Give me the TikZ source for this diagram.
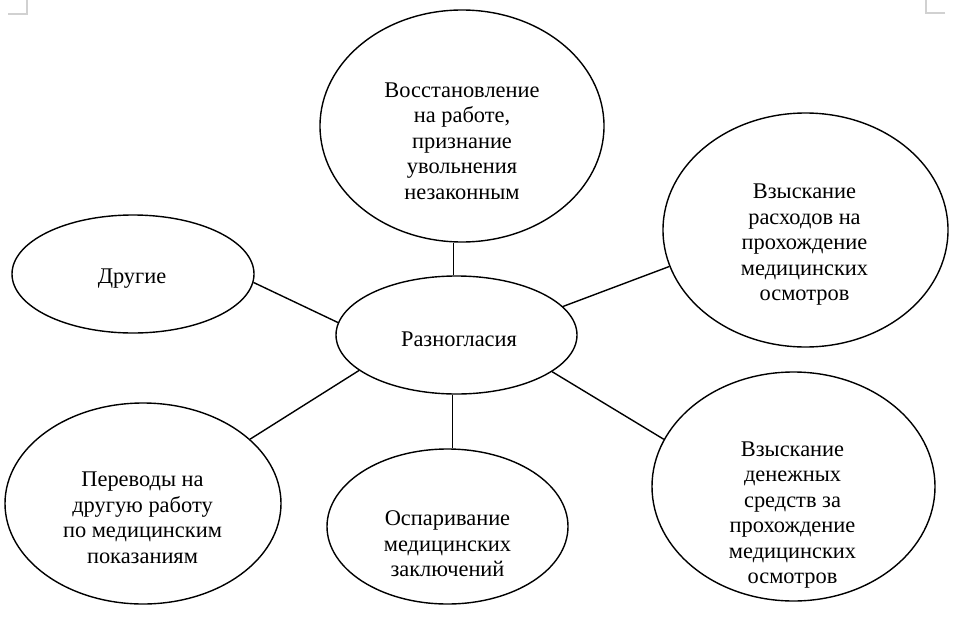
\documentclass[tikz,border=0pt]{standalone}
\usepackage{fontspec}
\setmainfont{Liberation Serif}
\usetikzlibrary{shapes.geometric}

\begin{document}
\begin{tikzpicture}[x=1pt,y=-1pt]
	\tikzset{BubbleStyle/.style =
		{draw,
			shape = ellipse,
			inner sep = 0pt,
			line width = 1.4pt,
			color = black},
		TextStyle/.style =
		{align = center,
			font = \fontsize{22.4}{25.5}\selectfont,
			text = black},
		EdgeStyle/.style = {line width = 1.4pt, color = black},
		MarkStyle/.style = {line width = 1.3pt, color = black!18}}
	\useasboundingbox (0,0) rectangle (955,621);
	% page corner marks
	\draw[MarkStyle] (8,14) -- (27,14) -- (27,0);
	\draw[MarkStyle] (945,13) -- (926,13) -- (926,0);
	% bubbles
	\node[BubbleStyle, minimum width=241pt, minimum height=118pt] (razn) at (456.5,335) {};
	\node[BubbleStyle, minimum width=284pt, minimum height=232pt] (vosst) at (462,126) {};
	\node[BubbleStyle, minimum width=285pt, minimum height=234pt] (rashod) at (805.5,230) {};
	\node[BubbleStyle, minimum width=242pt, minimum height=118pt] (drugie) at (133,274) {};
	\node[BubbleStyle, minimum width=276pt, minimum height=201pt] (perevod) at (143,503.5) {};
	\node[BubbleStyle, minimum width=241pt, minimum height=155pt] (ospar) at (447.5,526.5) {};
	\node[BubbleStyle, minimum width=283pt, minimum height=229pt] (denezh) at (793.5,486.5) {};
	% texts
	\node[TextStyle] (razn-t) at (459,339) {Разногласия};
	\node[TextStyle] (vosst-t) at (462,141) {Восстановление\\на работе,\\признание\\увольнения\\незаконным};
	\node[TextStyle] (rashod-t) at (804.5,245) {Взыскание\\расходов на\\прохождение\\медицинских\\осмотров};
	\node[TextStyle] (drugie-t) at (132,279) {Другие};
	\node[TextStyle] (perevod-t) at (142.5,518) {Переводы на\\другую работу\\по медицинским\\показаниям};
	\node[TextStyle] (ospar-t) at (447.5,544) {Оспаривание\\медицинских\\заключений};
	\node[TextStyle] (denezh-t) at (792.5,515) {Взыскание\\денежных\\средств за\\прохождение\\медицинских\\осмотров};
	% connectors
	\draw[EdgeStyle] (razn.93.7) -- (razn.93.7 |- vosst.south);
	\draw[EdgeStyle] (razn.15.4) -- (rashod.195.2);
	\draw[EdgeStyle] (razn.174.9) -- (drugie.356);
	\draw[EdgeStyle] (razn.200.1) -- (perevod.31.2);
	\draw[EdgeStyle] (razn.266.3) -- (razn.266.3 |- ospar.north);
	\draw[EdgeStyle] (razn.339.3) -- (denezh.160);
\end{tikzpicture}
\end{document}
